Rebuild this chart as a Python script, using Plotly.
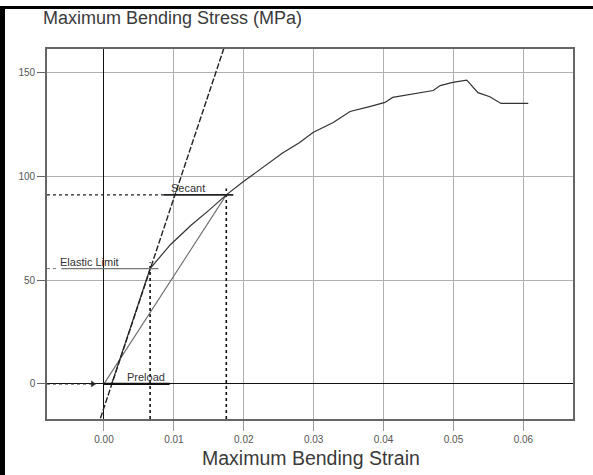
import plotly.graph_objects as go

# ---------------- data ----------------
strain = [0.0011, 0.0066, 0.0095, 0.0125, 0.0150, 0.0175, 0.0200, 0.0223, 0.0255,
          0.0280, 0.0299, 0.0328, 0.0352, 0.0380, 0.0402, 0.0413, 0.0448, 0.0471,
          0.0481, 0.0499, 0.0519, 0.0535, 0.0552, 0.0568, 0.0607]
stress = [0.0, 55.5, 67.0, 76.5, 83.5, 91.0, 97.5, 103.2, 111.0,
          116.2, 121.0, 125.8, 131.1, 133.5, 135.5, 137.9, 139.8, 141.2,
          143.6, 145.1, 146.2, 140.2, 138.2, 135.0, 135.0]

modulus_strain = [-0.0005, 0.0172]
modulus_stress = [-16.5, 162.0]

elastic_strain, elastic_stress = 0.0066, 55.5
secant_strain, secant_stress = 0.0175, 91.0

x_tick_vals = [0.00, 0.01, 0.02, 0.03, 0.04, 0.05, 0.06]
x_tick_text = ["0.00", "0.01", "0.02", "0.03", "0.04", "0.05", "0.06"]
y_tick_vals = [0, 50, 100, 150]
y_tick_text = ["0", "50", "100", "150"]

X_RANGE = [-0.00815, 0.0671]
Y_RANGE = [-16.9, 161.2]

# ---------------- figure ----------------
W, H = 593, 475
ML, MR, MT, MB = 47, 20, 49, 56
PW, PH = W - ML - MR, H - MT - MB
FONT = "Liberation Sans, Arial, sans-serif"


def px_x(p):
    return (p - ML) / PW


def px_y(p):
    return (H - MB - p) / PH


fig = go.Figure()

# secant line (origin -> secant point)
fig.add_trace(go.Scatter(x=[0, secant_strain], y=[0, secant_stress], mode="lines",
                         line=dict(color="#6a6a6a", width=1.1), hoverinfo="skip"))
# main curve
fig.add_trace(go.Scatter(x=strain, y=stress, mode="lines",
                         line=dict(color="#333333", width=1.2), hoverinfo="skip"))
# modulus (tangent) line
fig.add_trace(go.Scatter(x=modulus_strain, y=modulus_stress, mode="lines",
                         line=dict(color="#222222", width=1.4, dash="6px,2px"),
                         hoverinfo="skip"))

# dotted verticals to the x axis
for sx, sy in [(elastic_strain, elastic_stress), (secant_strain, secant_stress)]:
    fig.add_trace(go.Scatter(x=[sx, sx], y=[Y_RANGE[0], sy + 3], mode="lines",
                             line=dict(color="#111111", width=1.6, dash="3px,3px"),
                             hoverinfo="skip"))

# secant horizontal: dashed from left border, then solid underline
fig.add_trace(go.Scatter(x=[X_RANGE[0], secant_strain - 0.009], y=[secant_stress] * 2,
                         mode="lines", line=dict(color="#222222", width=1.1, dash="3px,3px"),
                         hoverinfo="skip"))
fig.add_trace(go.Scatter(x=[secant_strain - 0.009, secant_strain + 0.001], y=[secant_stress] * 2,
                         mode="lines", line=dict(color="#222222", width=1.6), hoverinfo="skip"))

# elastic-limit horizontal: short dots then underline
fig.add_trace(go.Scatter(x=[X_RANGE[0], elastic_strain - 0.0132], y=[elastic_stress] * 2,
                         mode="lines", line=dict(color="#777777", width=1.0, dash="dot"),
                         hoverinfo="skip"))
fig.add_trace(go.Scatter(x=[elastic_strain - 0.0127, elastic_strain + 0.0012], y=[elastic_stress] * 2,
                         mode="lines", line=dict(color="#777777", width=1.2), hoverinfo="skip"))

# preload: dashed arrow into origin, thick underline
fig.add_trace(go.Scatter(x=[X_RANGE[0], -0.0012], y=[0, 0], mode="lines",
                         line=dict(color="#222222", width=1.2, dash="3px,3px"), hoverinfo="skip"))
fig.add_trace(go.Scatter(x=[-0.0016], y=[0], mode="markers",
                         marker=dict(symbol="triangle-right", size=6, color="#222222"),
                         hoverinfo="skip"))
fig.add_trace(go.Scatter(x=[0, 0.0094], y=[0, 0], mode="lines",
                         line=dict(color="#111111", width=2.2), hoverinfo="skip"))

lab_font = dict(family=FONT, size=11, color="#333333")
fig.add_annotation(x=secant_strain - 0.0055, y=secant_stress, text="Secant", showarrow=False,
                   yanchor="bottom", yshift=-1, font=lab_font)
fig.add_annotation(x=elastic_strain - 0.0087, y=elastic_stress, text="Elastic Limit",
                   showarrow=False, yanchor="bottom", yshift=-1, font=lab_font)
fig.add_annotation(x=0.0060, y=0, text="Preload", showarrow=False, yanchor="bottom",
                   yshift=-1, font=lab_font)

# axis titles
fig.add_annotation(xref="paper", yref="paper", x=px_x(41), y=px_y(18), xanchor="left",
                   yanchor="middle", text="Maximum Bending Stress (MPa)", showarrow=False,
                   font=dict(family=FONT, size=18, color="#3a3a3a"))
fig.add_annotation(xref="paper", yref="paper", x=px_x(311), y=px_y(458), xanchor="center",
                   yanchor="middle", text="Maximum Bending Strain", showarrow=False,
                   font=dict(family=FONT, size=19.5, color="#3a3a3a"))

# outer frame (left and top bars)
fig.add_shape(type="rect", xref="paper", yref="paper", x0=px_x(0), x1=px_x(5),
              y0=px_y(475), y1=px_y(6), fillcolor="black", line_width=0, layer="above")
fig.add_shape(type="rect", xref="paper", yref="paper", x0=px_x(0), x1=px_x(593),
              y0=px_y(9), y1=px_y(6), fillcolor="black", line_width=0, layer="above")

tick_font = dict(family=FONT, size=10, color="#555555")
fig.update_xaxes(range=X_RANGE, tickvals=x_tick_vals, ticktext=x_tick_text,
                 showgrid=True, gridcolor="#b0b0b0", gridwidth=1,
                 zeroline=True, zerolinecolor="#111111", zerolinewidth=1.4,
                 showline=True, linecolor="#666666", linewidth=1.6, mirror=True,
                 ticks="outside", ticklen=10, tickcolor="#999999", tickwidth=1,
                 tickfont=tick_font, fixedrange=True)
fig.update_yaxes(range=Y_RANGE, tickvals=y_tick_vals, ticktext=y_tick_text,
                 showgrid=True, gridcolor="#b0b0b0", gridwidth=1,
                 zeroline=True, zerolinecolor="#111111", zerolinewidth=1.4,
                 showline=True, linecolor="#666666", linewidth=1.6, mirror=True,
                 ticks="outside", ticklen=8, tickcolor="#666666", tickwidth=1,
                 tickfont=tick_font, fixedrange=True)

fig.update_layout(width=W, height=H, margin=dict(l=ML, r=MR, t=MT, b=MB),
                  paper_bgcolor="white", plot_bgcolor="white", showlegend=False)

fig.write_html("out.html", config={"displayModeBar": False})
